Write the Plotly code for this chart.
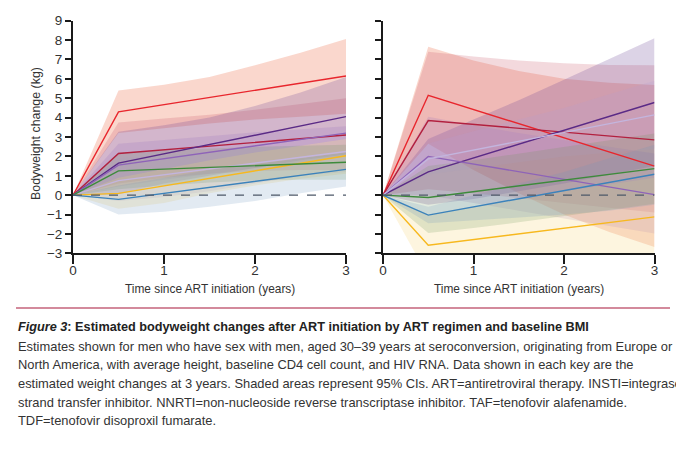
import plotly.graph_objects as go

W, H = 684, 463

# ---------------- data ----------------
T_LINE = [0, 0.5, 3]
T_BAND = [0, 0.5, 1, 1.5, 2, 2.5, 3]
X_TICKS = [0, 1, 2, 3]
Y_TICKS = list(range(-3, 10))

series_names = ["red", "crimson", "darkpurple", "medpurple", "lavender", "yellow", "green", "blue"]

# Left panel (estimates at 0, 0.5, 3 years)
left_line = {
    "red":        [0, 4.30, 6.15],
    "crimson":    [0, 2.15, 3.10],
    "darkpurple": [0, 1.65, 4.05],
    "medpurple":  [0, 1.55, 3.20],
    "lavender":   [0, 0.75, 2.25],
    "yellow":     [0, 0.09, 2.03],
    "green":      [0, 1.25, 1.70],
    "blue":       [0, -0.22, 1.33],
}
left_upper = {
    "red":        [0, 5.40, 5.70, 6.10, 6.70, 7.35, 8.05],
    "crimson":    [0, 3.75, 3.95, 4.15, 4.40, 4.70, 5.00],
    "darkpurple": [0, 3.27, 3.60, 4.00, 4.60, 5.30, 6.10],
    "medpurple":  [0, 2.65, 2.85, 3.05, 3.25, 3.40, 3.55],
    "lavender":   [0, 1.90, 2.05, 2.25, 2.45, 2.55, 2.60],
    "yellow":     [0, 0.90, 1.35, 1.80, 2.20, 2.55, 2.90],
    "green":      [0, 2.20, 2.30, 2.40, 2.50, 2.55, 2.60],
    "blue":       [0, 0.50, 0.90, 1.30, 1.60, 1.90, 2.20],
}
left_lower = {
    "red":        [0, 3.20, 3.45, 3.70, 3.90, 4.05, 4.20],
    "crimson":    [0, 0.60, 0.90, 1.10, 1.25, 1.30, 1.30],
    "darkpurple": [0, 0.05, 0.60, 1.00, 1.40, 1.80, 2.10],
    "medpurple":  [0, 0.45, 0.80, 1.10, 1.40, 1.70, 2.00],
    "lavender":   [0, -0.30, -0.10, 0.20, 0.60, 1.00, 1.20],
    "yellow":     [0, -0.70, -0.40, 0.10, 0.50, 0.85, 1.10],
    "green":      [0, 0.30, 0.50, 0.65, 0.75, 0.80, 0.80],
    "blue":       [0, -1.00, -0.85, -0.60, -0.30, 0.10, 0.45],
}

# Right panel
right_line = {
    "red":        [0, 5.15, 1.50],
    "crimson":    [0, 3.85, 2.85],
    "darkpurple": [0, 1.20, 4.78],
    "medpurple":  [0, 2.00, 0.03],
    "lavender":   [0, 1.87, 4.14],
    "yellow":     [0, -2.58, -1.12],
    "green":      [0, -0.12, 1.37],
    "blue":       [0, -1.03, 1.08],
}
right_upper = {
    "red":        [0, 7.66, 6.95, 6.40, 6.00, 5.80, 5.68],
    "crimson":    [0, 7.40, 7.15, 6.95, 6.80, 6.72, 6.70],
    "darkpurple": [0, 2.90, 3.90, 4.90, 5.95, 7.00, 8.09],
    "medpurple":  [0, 4.04, 3.60, 3.20, 2.85, 2.50, 2.15],
    "lavender":   [0, 2.67, 3.30, 3.90, 4.50, 5.20, 5.90],
    "yellow":     [0, -1.00, -0.60, -0.20, 0.20, 0.55, 0.90],
    "green":      [0, 1.50, 1.80, 2.15, 2.50, 2.85, 3.18],
    "blue":       [0, -0.60, 0.00, 0.60, 1.20, 1.90, 2.60],
}
right_lower = {
    "red":        [0, 2.65, 1.30, 0.10, -1.00, -1.90, -2.67],
    "crimson":    [0, 0.30, 0.10, -0.15, -0.40, -0.65, -0.90],
    "darkpurple": [0, -0.50, -0.20, 0.20, 0.60, 1.05, 1.50],
    "medpurple":  [0, 0.00, -0.40, -0.80, -1.20, -1.60, -1.98],
    "lavender":   [0, 1.07, 1.40, 1.70, 2.00, 2.20, 2.40],
    "yellow":     [0, -4.20, -4.00, -3.80, -3.60, -3.40, -3.20],
    "green":      [0, -1.95, -1.70, -1.40, -1.10, -0.77, -0.44],
    "blue":       [0, -1.45, -1.30, -1.15, -1.00, -0.80, -0.50],
}

line_colors = {
    "red": "#e8262d", "crimson": "#b2203f", "darkpurple": "#5a2a86",
    "medpurple": "#8e63b8", "lavender": "#c3b5de", "yellow": "#f7b81e",
    "green": "#3d8a3b", "blue": "#3b82bb",
}
band_colors = {
    "red": "rgba(240,130,100,0.32)", "crimson": "rgba(200,80,100,0.22)",
    "darkpurple": "rgba(110,70,150,0.24)", "medpurple": "rgba(150,110,190,0.20)",
    "lavender": "rgba(180,160,210,0.22)", "yellow": "rgba(250,222,150,0.30)",
    "green": "rgba(110,150,90,0.20)", "blue": "rgba(110,150,190,0.20)",
}

caption_title = "<b><i>Figure 3</i>: Estimated bodyweight changes after ART initiation by ART regimen and baseline BMI</b>"
caption_lines = [
    "Estimates shown for men who have sex with men, aged 30–39 years at seroconversion, originating from Europe or",
    "North America, with average height, baseline CD4 cell count, and HIV RNA. Data shown in each key are the",
    "estimated weight changes at 3 years. Shaded areas represent 95% CIs. ART=antiretroviral therapy. INSTI=integrase",
    "strand transfer inhibitor. NNRTI=non-nucleoside reverse transcriptase inhibitor. TAF=tenofovir alafenamide.",
    "TDF=tenofovir disoproxil fumarate.",
]
x_title = "Time since ART initiation (years)"
y_title = "Bodyweight change (kg)"

# ---------------- figure ----------------
FONT = "Liberation Sans, Arial, sans-serif"
TXT = "#333333"
OFF = 8  # page body margin in the viewer

def px(x):
    return (x - OFF) / W

def py(y):
    return 1 - (y - OFF) / H

fig = go.Figure()

panels = [
    ("x", "y", left_line, left_upper, left_lower),
    ("x2", "y2", right_line, right_upper, right_lower),
]
for xa, ya, ln, up, lo in panels:
    for s in series_names:
        fig.add_trace(go.Scatter(
            x=T_BAND + T_BAND[::-1], y=up[s] + lo[s][::-1],
            fill="toself", fillcolor=band_colors[s], line=dict(width=0),
            mode="lines", hoverinfo="skip", showlegend=False, xaxis=xa, yaxis=ya))
    for s in series_names:
        fig.add_trace(go.Scatter(
            x=T_LINE, y=ln[s], mode="lines",
            line=dict(color=line_colors[s], width=1.4),
            showlegend=False, xaxis=xa, yaxis=ya))

xd1 = [px(73), px(346)]
xd2 = [px(383), px(654.5)]
yd = [py(253.3), py(20.7)]

axis_common = dict(showgrid=False, zeroline=False, showline=True, linecolor="#1a1a1a",
                   linewidth=2, ticks="outside", tickcolor="#1a1a1a", tickwidth=1.5,
                   tickfont=dict(family=FONT, size=13.5, color=TXT))
fig.update_layout(
    width=W, height=H, margin=dict(l=0, r=0, t=0, b=0, autoexpand=False),
    paper_bgcolor="white", plot_bgcolor="white", showlegend=False,
    xaxis=dict(domain=xd1, range=[0, 3], tickvals=X_TICKS, ticklen=9, ticklabelstandoff=-6,
               anchor="y", **axis_common),
    xaxis2=dict(domain=xd2, range=[0, 3], tickvals=X_TICKS, ticklen=9, ticklabelstandoff=-6,
                anchor="y2", **axis_common),
    yaxis=dict(domain=yd, range=[-3, 9], tickvals=Y_TICKS, ticklen=6, anchor="x", **axis_common),
    yaxis2=dict(domain=yd, range=[-3, 9], tickvals=Y_TICKS, ticklen=6, anchor="x2",
                showticklabels=False, **axis_common),
)

# zero reference lines
for xr, yr in [("x", "y"), ("x2", "y2")]:
    fig.add_shape(type="line", xref=xr, yref=yr, x0=0, x1=3, y0=0, y1=0,
                  line=dict(color="#4d5868", width=1.3, dash="dash"), layer="above")

# axis titles
for cx in [(73 + 346) / 2, (383 + 654.5) / 2]:
    fig.add_annotation(x=px(cx), y=py(289), xref="paper", yref="paper", text=x_title,
                       showarrow=False, xanchor="center", yanchor="middle",
                       font=dict(family=FONT, size=11.9, color=TXT))
fig.add_annotation(x=px(36), y=py(134), xref="paper", yref="paper", text=y_title,
                   showarrow=False, textangle=-90, xanchor="center", yanchor="middle",
                   font=dict(family=FONT, size=12.4, color=TXT))

# caption
fig.add_shape(type="line", xref="paper", yref="paper", x0=px(16), x1=px(670),
              y0=py(308), y1=py(308), line=dict(color="#a8163a", width=1.2))
fig.add_annotation(x=px(16), y=py(327), xref="paper", yref="paper", text=caption_title,
                   showarrow=False, xanchor="left", yanchor="middle",
                   font=dict(family=FONT, size=12.7, color="#222222"))
for i, t in enumerate(caption_lines):
    fig.add_annotation(x=px(16), y=py(346 + 18.7 * i), xref="paper", yref="paper", text=t,
                       showarrow=False, xanchor="left", yanchor="middle",
                       font=dict(family=FONT, size=12.9, color=TXT))

# page marks
fig.add_shape(type="line", xref="paper", yref="paper", x0=px(25), x1=px(25), y0=py(0), y1=py(8),
              line=dict(color="#e6a3bd", width=1.5))
fig.add_shape(type="line", xref="paper", yref="paper", x0=px(677), x1=px(677), y0=py(0), y1=py(8),
              line=dict(color="#c0304a", width=1.5))

fig.write_html("out.html")
